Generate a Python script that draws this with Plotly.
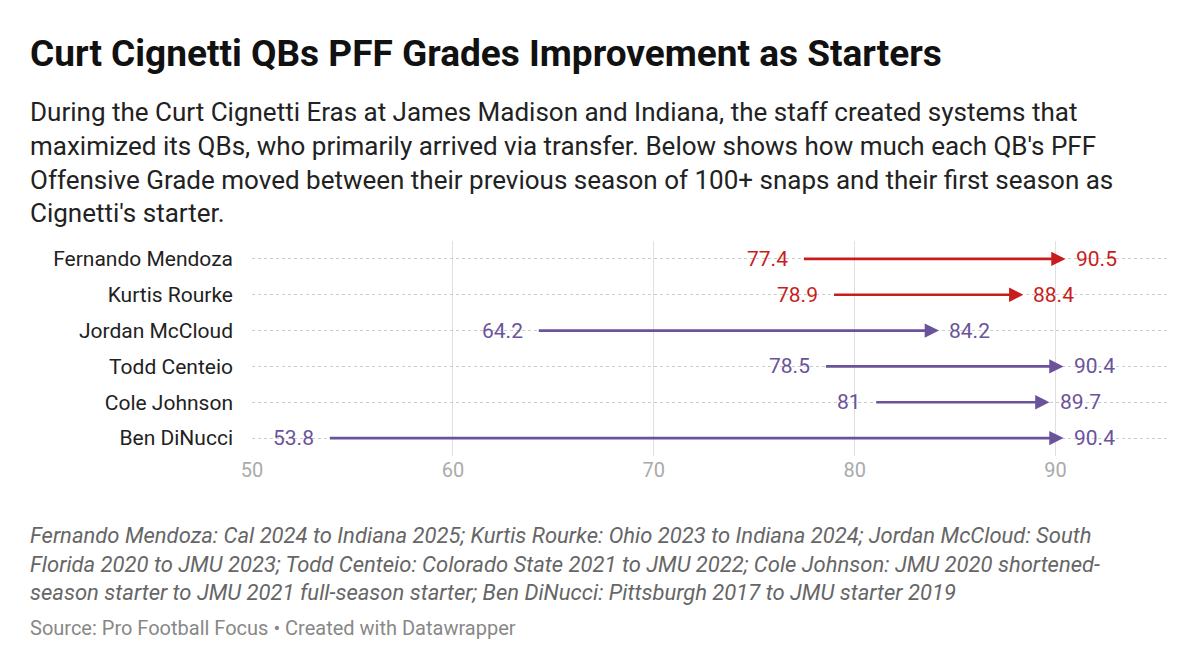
import plotly.graph_objects as go

players = ["Fernando Mendoza", "Kurtis Rourke", "Jordan McCloud",
           "Todd Centeio", "Cole Johnson", "Ben DiNucci"]
before = [77.4, 78.9, 64.2, 78.5, 81, 53.8]
after = [90.5, 88.4, 84.2, 90.4, 89.7, 90.4]
indiana = [True, True, False, False, False, False]

RED = "#c71e1d"
PURPLE = "#6b539c"

fig = go.Figure()
# invisible trace to set the category axis
fig.add_trace(go.Scatter(x=before + after, y=players + players, mode="markers",
                         marker=dict(opacity=0), hoverinfo="skip", showlegend=False))

for name, b, a, ind in zip(players, before, after, indiana):
    c = RED if ind else PURPLE
    fig.add_annotation(x=a, y=name, ax=b, ay=name, xref="x", yref="y",
                       axref="x", ayref="y", showarrow=True, arrowhead=2,
                       arrowsize=1.1, arrowwidth=2.6, arrowcolor=c, text="")
    fig.add_annotation(x=b - 0.6, y=name, text=f"{b:g}", showarrow=False,
                       xanchor="right", font=dict(size=21, color=c))
    fig.add_annotation(x=a + 0.4, y=name, text=f"{a:g}", showarrow=False,
                       xanchor="left", font=dict(size=21, color=c))

fig.update_layout(
    width=1200, height=654,
    margin=dict(l=244, r=40, t=233, b=206),
    paper_bgcolor="white", plot_bgcolor="white",
    font=dict(family="Roboto", color="#222"),
    xaxis=dict(range=[50, 95.6], tickvals=[50, 60, 70, 80, 90], automargin=False,
               showgrid=True, gridcolor="#e0e0e0", zeroline=False,
               tickfont=dict(size=20, color="#aaa"), ticks="", showline=False),
    yaxis=dict(categoryorder="array", categoryarray=players[::-1], automargin=False,
               range=[-0.5, 5.5], showgrid=True, gridcolor="#ccc",
               griddash="dot", tickfont=dict(size=21, color="#222"),
               ticks="", ticklabelstandoff=18, zeroline=False),
)

LX = -0.2445
fig.add_annotation(xref="paper", yref="paper", x=LX, y=1.874, xanchor="left",
                   yanchor="middle", showarrow=False,
                   text="<b>Curt Cignetti QBs PFF Grades Improvement as Starters</b>",
                   font=dict(size=37, color="#111"))
fig.add_annotation(xref="paper", yref="paper", x=LX, y=1.363, xanchor="left",
                   yanchor="middle", showarrow=False, align="left",
                   text="During the Curt Cignetti Eras at James Madison and Indiana, the staff created systems that<br>"
                        "maximized its QBs, who primarily arrived via transfer. Below shows how much each QB's PFF<br>"
                        "Offensive Grade moved between their previous season of 100+ snaps and their first season as<br>"
                        "Cignetti's starter.",
                   font=dict(size=26, color="#222"))
fig.add_annotation(xref="paper", yref="paper", x=LX, y=-0.502, xanchor="left",
                   yanchor="middle", showarrow=False, align="left",
                   text="<i>Fernando Mendoza: Cal 2024 to Indiana 2025; Kurtis Rourke: Ohio 2023 to Indiana 2024; Jordan McCloud: South<br>"
                        "Florida 2020 to JMU 2023; Todd Centeio: Colorado State 2021 to JMU 2022; Cole Johnson: JMU 2020 shortened-<br>"
                        "season starter to JMU 2021 full-season starter; Ben DiNucci: Pittsburgh 2017 to JMU starter 2019</i>",
                   font=dict(size=22, color="#666"))
fig.add_annotation(xref="paper", yref="paper", x=LX, y=-0.8, xanchor="left",
                   yanchor="middle", showarrow=False,
                   text="Source: Pro Football Focus • Created with Datawrapper",
                   font=dict(size=20, color="#888"))

fig.write_html("out.html")
